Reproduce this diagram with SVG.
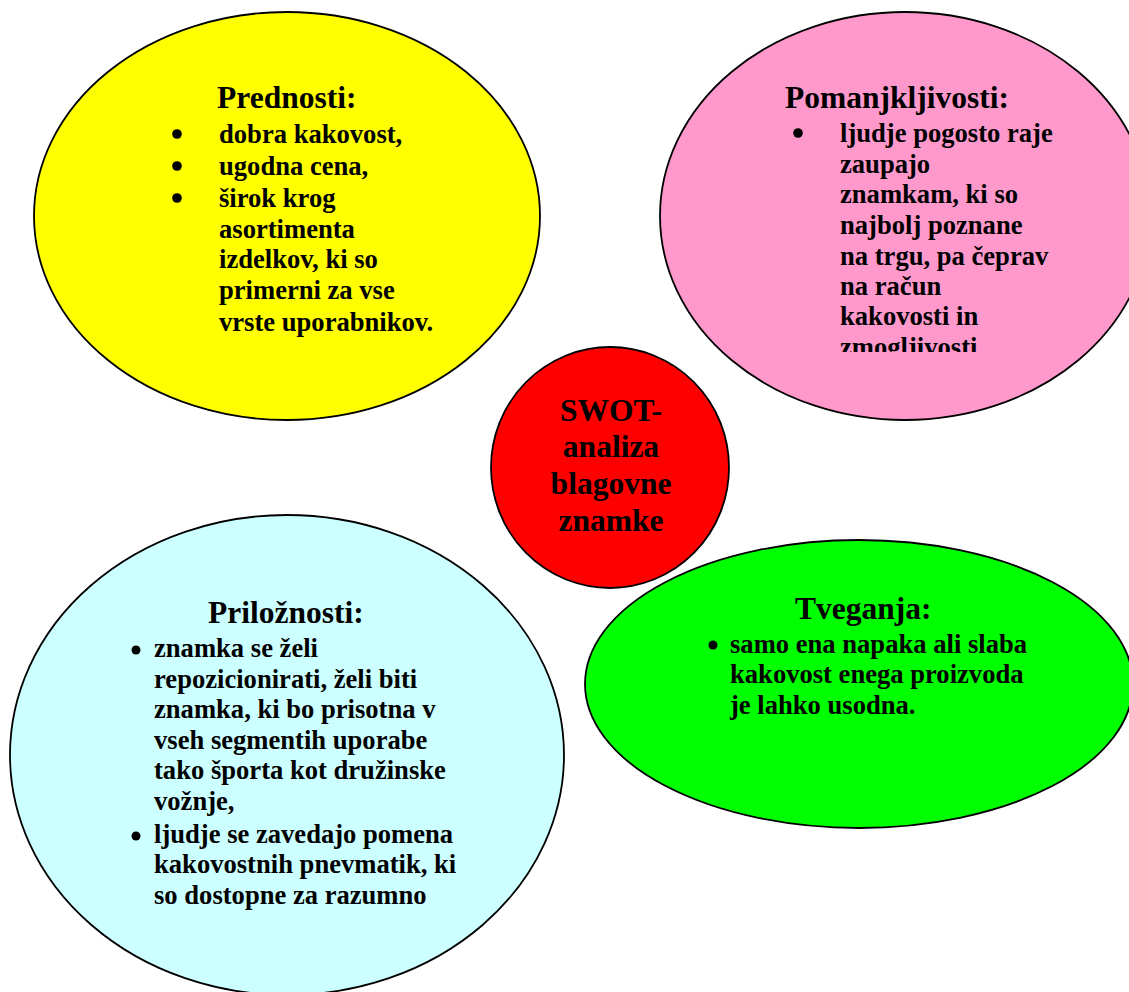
<svg xmlns="http://www.w3.org/2000/svg" width="1129" height="992" viewBox="0 0 1129 992">
  <style>
    .shape { stroke: #000; stroke-width: 1.8; }
    .title { font-family: "Liberation Serif", "Times New Roman", serif; font-weight: bold; font-size: 31.5px; fill: #000; }
    .body { font-family: "Liberation Serif", "Times New Roman", serif; font-weight: bold; font-size: 26.6px; fill: #000; }
    .center { font-family: "Liberation Serif", "Times New Roman", serif; font-weight: bold; font-size: 31.5px; fill: #000; text-anchor: middle; }
    .dot { fill: #000; }
  </style>
  <defs>
    <!-- text frame of the weaknesses bubble cuts the last line -->
    <clipPath id="clip-weak">
      <rect x="770" y="60" width="330" height="292"/>
    </clipPath>
  </defs>

  <rect width="1129" height="992" fill="#fff"/>

  <!-- Strengths -->
  <g id="strengths">
    <ellipse class="shape" cx="287" cy="216" rx="253" ry="204" fill="#FFFF00"/>
    <text class="title" x="217" y="108">Prednosti:</text>
    <circle class="dot" cx="177" cy="134" r="4.8"/>
    <circle class="dot" cx="177" cy="166" r="4.8"/>
    <circle class="dot" cx="177" cy="198" r="4.8"/>
    <text class="body" x="219" y="143">dobra kakovost,</text>
    <text class="body" x="219" y="175">ugodna cena,</text>
    <text class="body" x="219" y="207">širok krog</text>
    <text class="body" x="219" y="238">asortimenta</text>
    <text class="body" x="219" y="268">izdelkov, ki so</text>
    <text class="body" x="219" y="299">primerni za vse</text>
    <text class="body" x="219" y="331">vrste uporabnikov.</text>
  </g>

  <!-- Weaknesses -->
  <g id="weaknesses">
    <ellipse class="shape" cx="905" cy="216" rx="245" ry="204" fill="#FF99CC"/>
    <text class="title" x="785" y="108">Pomanjkljivosti:</text>
    <circle class="dot" cx="798" cy="133" r="4.8"/>
    <g clip-path="url(#clip-weak)">
      <text class="body" x="840" y="142">ljudje pogosto raje</text>
      <text class="body" x="840" y="173">zaupajo</text>
      <text class="body" x="840" y="203">znamkam, ki so</text>
      <text class="body" x="840" y="234">najbolj poznane</text>
      <text class="body" x="840" y="265">na trgu, pa čeprav</text>
      <text class="body" x="840" y="295">na račun</text>
      <text class="body" x="840" y="325">kakovosti in</text>
      <text class="body" x="840" y="356">zmogljivosti</text>
    </g>
  </g>

  <!-- Centre -->
  <g id="swot">
    <ellipse class="shape" cx="610" cy="467.5" rx="119" ry="120.5" fill="#FF0000"/>
    <text class="center" x="611" y="421">SWOT-</text>
    <text class="center" x="611" y="457">analiza</text>
    <text class="center" x="611" y="494">blagovne</text>
    <text class="center" x="611" y="531">znamke</text>
  </g>

  <!-- Opportunities -->
  <g id="opportunities">
    <ellipse class="shape" cx="287" cy="755" rx="277" ry="240" fill="#CCFFFF"/>
    <text class="title" x="208" y="623">Priložnosti:</text>
    <circle class="dot" cx="136" cy="650" r="4.5"/>
    <circle class="dot" cx="136" cy="836" r="4.5"/>
    <text class="body" x="154" y="657">znamka se želi</text>
    <text class="body" x="154" y="688">repozicionirati, želi biti</text>
    <text class="body" x="154" y="718">znamka, ki bo prisotna v</text>
    <text class="body" x="154" y="749">vseh segmentih uporabe</text>
    <text class="body" x="154" y="779">tako športa kot družinske</text>
    <text class="body" x="154" y="810">vožnje,</text>
    <text class="body" x="154" y="843">ljudje se zavedajo pomena</text>
    <text class="body" x="154" y="873">kakovostnih pnevmatik, ki</text>
    <text class="body" x="154" y="904">so dostopne za razumno</text>
  </g>

  <!-- Threats -->
  <g id="threats">
    <ellipse class="shape" cx="859" cy="684" rx="274" ry="144" fill="#00FF00"/>
    <text class="title" x="795" y="619">Tveganja:</text>
    <circle class="dot" cx="713" cy="645" r="4.5"/>
    <text class="body" x="730" y="653">samo ena napaka ali slaba</text>
    <text class="body" x="730" y="683">kakovost enega proizvoda</text>
    <text class="body" x="730" y="714">je lahko usodna.</text>
  </g>

  <g id="connectors"/>
</svg>
